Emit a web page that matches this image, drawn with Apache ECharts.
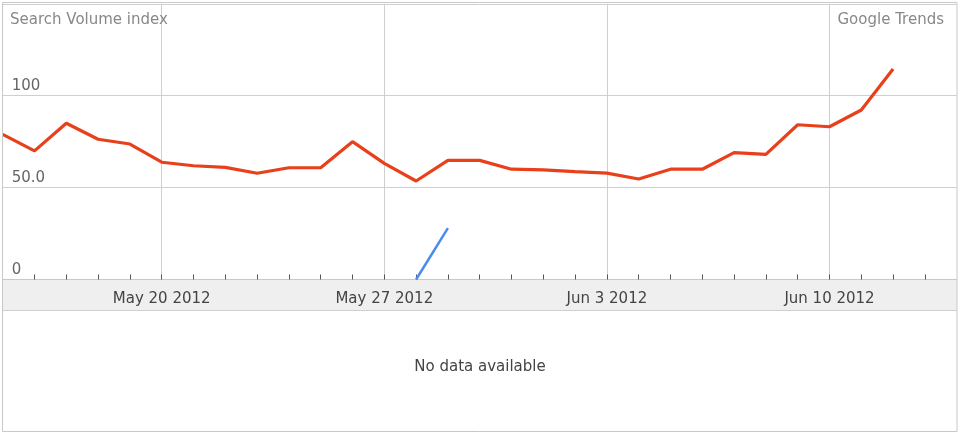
<!DOCTYPE html>
<html>
<head>
<meta charset="utf-8">
<script src="https://cdn.jsdelivr.net/npm/echarts@6/dist/echarts.min.js"></script>
<style>
html,body{margin:0;padding:0;background:#fff;}
#c{width:960px;height:434px;}
</style>
</head>
<body>
<div id="c"></div>
<script>
// Daily categories May 15 2012 .. Jun 14 2012
const dates = [
  "May 15 2012","May 16 2012","May 17 2012","May 18 2012","May 19 2012","May 20 2012",
  "May 21 2012","May 22 2012","May 23 2012","May 24 2012","May 25 2012","May 26 2012",
  "May 27 2012","May 28 2012","May 29 2012","May 30 2012","May 31 2012","Jun 1 2012",
  "Jun 2 2012","Jun 3 2012","Jun 4 2012","Jun 5 2012","Jun 6 2012","Jun 7 2012",
  "Jun 8 2012","Jun 9 2012","Jun 10 2012","Jun 11 2012","Jun 12 2012","Jun 13 2012","Jun 14 2012"
];
const labeledDates = ["May 20 2012","May 27 2012","Jun 3 2012","Jun 10 2012"];
const searchVolume = [
  79, 70, 85, 76.3, 73.7, 63.8, 61.9, 61, 57.8, 60.8, 60.8, 75, 63.2, 53.6, 64.8,
  64.8, 60, 59.6, 58.7, 57.9, 54.7, 60, 60, 69, 68.1, 84.2, 83.1, 92.2, 114.5, null, null
];
const newsSeries = [
  null, null, null, null, null, null, null, null, null, null, null, null, null, 0, 28,
  null, null, null, null, null, null, null, null, null, null, null, null, null, null, null, null
];
const yTickLabels = {0: "0", 50: "50.0", 100: "100", 150: ""};

const chart = echarts.init(document.getElementById('c'), null, {renderer: 'canvas'});
const FONT = "'DejaVu Sans', Verdana, sans-serif";
const isLabeled = (i, v) => labeledDates.indexOf(dates[i]) >= 0;
const isTicked = (i, v) => i < dates.length - 1;

chart.setOption({
  animation: false,
  backgroundColor: '#fff',
  textStyle: {fontFamily: FONT},
  grid: {left: 2.7, right: 3.3, top: 3.8, bottom: 154.5, containLabel: false},
  xAxis: {
    type: 'category',
    data: dates,
    boundaryGap: false,
    axisLine: {show: true, lineStyle: {color: '#c8c8c8', width: 1}},
    axisTick: {show: true, inside: true, length: 5, interval: isTicked, lineStyle: {color: '#555', width: 1}},
    axisLabel: {
      show: true, interval: isLabeled, margin: 12,
      color: '#444', fontSize: 15, fontFamily: FONT
    },
    splitLine: {show: true, interval: isLabeled, lineStyle: {color: '#cfcfcf', width: 1}}
  },
  yAxis: {
    type: 'value',
    min: 0, max: 150, interval: 50,
    axisLine: {show: false},
    axisTick: {show: false},
    axisLabel: {
      inside: true, margin: 9, color: '#666', fontSize: 15, fontFamily: FONT,
      verticalAlign: 'bottom', padding: [0, 0, 2, 0],
      formatter: v => yTickLabels[v] !== undefined ? yTickLabels[v] : ''
    },
    splitLine: {show: true, lineStyle: {color: '#cfcfcf', width: 1}}
  },
  series: [
    {
      type: 'line', data: searchVolume, showSymbol: false, symbol: 'none',
      lineStyle: {color: '#e8401a', width: 3.2}, z: 5, connectNulls: false
    },
    {
      type: 'line', data: newsSeries, showSymbol: false, symbol: 'none',
      lineStyle: {color: '#4a8cf0', width: 2.5}, z: 4
    }
  ],
  graphic: [
    {type: 'rect', z: -10, silent: true, shape: {x: 2.5, y: 280, width: 954.5, height: 30},
      style: {fill: '#efefef', stroke: null}},
    {type: 'line', z: 10, silent: true, shape: {x1: 2.5, y1: 310.5, x2: 957, y2: 310.5},
      style: {stroke: '#cfcfcf', lineWidth: 1}},
    {type: 'rect', z: 10, silent: true, shape: {x: 2.5, y: 2.5, width: 954.5, height: 429},
      style: {fill: null, stroke: '#c8c8c8', lineWidth: 1}},
    {type: 'text', z: 10, left: 10, top: 13,
      style: {text: 'Search Volume index', fill: '#888', font: '15px ' + FONT}},
    {type: 'text', z: 10, right: 16, top: 13,
      style: {text: 'Google Trends', fill: '#888', font: '15px ' + FONT}},
    {type: 'text', z: 10, left: 'center', top: 360,
      style: {text: 'No data available', fill: '#444', font: '15px ' + FONT}}
  ]
});
</script>
</body>
</html>
